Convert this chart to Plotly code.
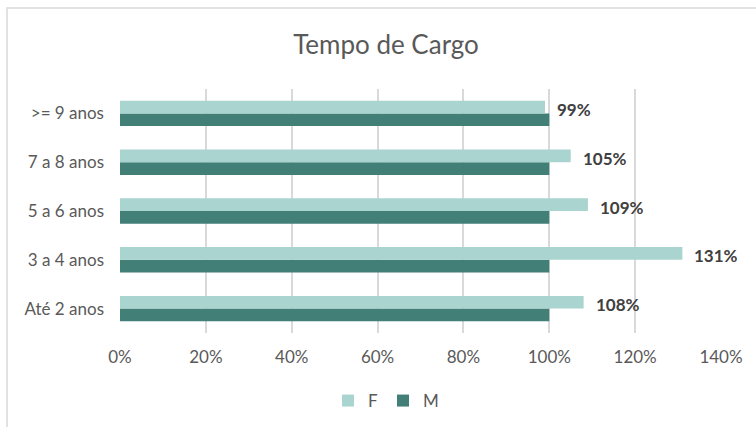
import plotly.graph_objects as go

categories = ["Até 2 anos", "3 a 4 anos", "5 a 6 anos", "7 a 8 anos", ">= 9 anos"]
f_values = [108, 131, 109, 105, 99]
m_values = [100, 100, 100, 100, 100]
x_ticks = [0, 20, 40, 60, 80, 100, 120, 140]
x_tick_labels = [f"{v}%" for v in x_ticks]

F_COLOR = "#AAD4CF"
M_COLOR = "#417F77"
TEXT = "#595959"
FONT = "Lato"

fig = go.Figure()
fig.add_trace(go.Bar(
    name="M", y=categories, x=m_values, orientation="h",
    marker=dict(color=M_COLOR, line=dict(width=0)), legendrank=2,
    hoverinfo="skip",
))
fig.add_trace(go.Bar(
    name="F", y=categories, x=f_values, orientation="h",
    marker=dict(color=F_COLOR, line=dict(width=0)), legendrank=1,
    hoverinfo="skip",
))

for cat, v in zip(categories, f_values):
    fig.add_annotation(
        x=v, y=cat, text=f"<b>{v}%</b>", showarrow=False,
        xanchor="left", yanchor="middle", xshift=10, yshift=4,
        font=dict(family=FONT, size=17, color="#404040"),
    )

fig.update_layout(
    width=756, height=427,
    margin=dict(l=120, r=35, t=89, b=94),
    paper_bgcolor="white", plot_bgcolor="white",
    barmode="group", bargap=0.48, bargroupgap=0,
    font=dict(family=FONT, color=TEXT, size=17),
    title=dict(text="Tempo de Cargo", x=386 / 756, xref="container", xanchor="center",
               y=1 - 45 / 427, yref="container", yanchor="middle",
               font=dict(family=FONT, size=26, color=TEXT)),
    legend=dict(orientation="h", xref="container", yref="container",
                x=386 / 756, y=1 - 401 / 427, xanchor="center", yanchor="middle",
                font=dict(family=FONT, size=17, color=TEXT), itemwidth=30,
                traceorder="normal"),
    xaxis=dict(range=[0, 140], tickvals=x_ticks, ticktext=x_tick_labels,
               showgrid=True, gridcolor="#D9D9D9", gridwidth=1.5,
               zeroline=False, showline=False, ticks="", ticklabelstandoff=12,
               tickfont=dict(family=FONT, size=17, color=TEXT), fixedrange=True),
    yaxis=dict(categoryorder="array", categoryarray=categories,
               showgrid=False, zeroline=False, showline=False, ticks="",
               ticklabelstandoff=15,
               tickfont=dict(family=FONT, size=17, color=TEXT), fixedrange=True),
    shapes=[dict(type="rect", xref="paper", yref="paper",
                 x0=(7 - 120) / 601, x1=1.2, y0=-0.5, y1=(333 - 8) / 244,
                 line=dict(color="#D9D9D9", width=1.5), fillcolor="rgba(0,0,0,0)",
                 layer="below")],
)

fig.write_html("out.html", config={"displayModeBar": False},
               post_script="document.body.style.margin='0px';")
